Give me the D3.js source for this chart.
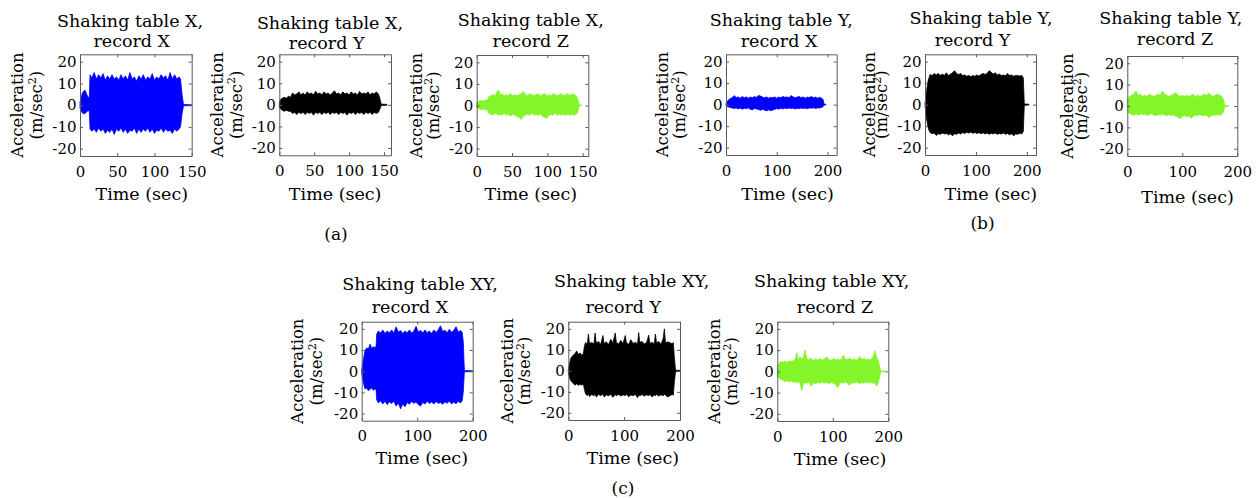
<!DOCTYPE html>
<html>
<head>
<meta charset="utf-8">
<script src="https://cdn.jsdelivr.net/npm/d3@7"></script>
<style>
  html, body { margin: 0; padding: 0; background: #fff; }
  svg { display: block; }
</style>
</head>
<body>
<svg id="fig" width="1260" height="498"></svg>
<script>
// Acceleration records, sampled as envelope points: [time (sec), upper peak, lower peak] in m/sec^2

// (a) shaking table X
const tableX_recX = [[0,1.5,-1.5],[1.5,3,-2.5],[3,5.5,-3.5],[5,6.5,-4],[7,6.8,-3.8],[9,5,-3],[11,3.5,-2.5],[12.5,4,-3],[13.5,14,-11],[16,12.5,-12],[19,15,-11],[22,12,-12.5],[25,14,-10.5],[28,12.5,-12],[31,14.5,-11],[34,11.5,-13],[37,13.5,-11.5],[40,12,-12.5],[43,14,-11],[46,12,-13.5],[49,13,-11],[52,11.5,-12],[55,14,-10.5],[58,12,-12.5],[61,13.5,-11],[64,11.5,-13],[67,15,-11.5],[70,12,-12],[73,13,-10.5],[76,11,-13],[79,13.5,-11],[82,12,-12.5],[85,14,-11],[88,11.5,-12],[91,13,-10.5],[94,12,-12.5],[97,14.5,-11],[100,11.5,-13],[103,13,-11.5],[106,12,-12],[109,14,-10.5],[112,12.5,-12.5],[115,13.5,-11],[118,11.5,-12],[121,15,-11.5],[124,12,-13],[127,14,-11],[130,12,-12],[133,13,-11],[135,12,-10],[137,5,-4],[139,0.3,-0.3],[150,0.2,-0.2]];
const tableX_recY = [[0,1,-1],[2,2.5,-2],[4,3,-2.5],[7,3.5,-3],[10,3,-2.5],[13,4,-3],[16,3.5,-3],[19,5.5,-4],[22,4.5,-3.5],[25,5,-4.5],[28,6,-3.5],[31,4.5,-4],[34,5.5,-3.5],[37,4.5,-4.5],[40,6,-3.5],[43,5,-4],[46,5.5,-3.5],[49,4.5,-4.8],[52,6.3,-3.5],[55,5,-4],[58,5.5,-3.5],[61,4.5,-4.5],[64,6,-3.5],[67,5,-4],[70,5.5,-3.5],[73,4.5,-4.5],[76,5.5,-3.5],[79,6.5,-4],[82,5,-3.5],[85,5.5,-4.5],[88,4.5,-3.5],[91,6,-4],[94,5,-3.5],[97,5.5,-4.8],[100,4.5,-3.5],[103,6,-4],[106,5,-3.5],[109,5.5,-4.5],[112,4.5,-3.5],[115,6.2,-4],[118,5,-3.5],[121,5.5,-4.5],[124,5,-3.5],[127,6,-4],[130,4.5,-3.5],[133,5.5,-4.5],[136,5,-3.5],[139,6,-4],[142,5,-3.5],[144,3,-2],[146,0.3,-0.3],[154,0.2,-0.2]];
const tableX_recZ = [[0,1.5,-1],[3,2,-1.5],[6,2.3,-2],[9,2,-1.5],[12,2.5,-2],[15,2.5,-2],[17,4,-3.5],[20,4.5,-4],[23,5,-4.5],[26,4.5,-3.5],[29,6.5,-4],[31,7.2,-4.5],[33,5,-4],[36,5.5,-4.5],[39,4.5,-3.5],[42,5,-4.5],[45,4.5,-4],[48,5.5,-5],[51,4.5,-4],[54,5,-4.5],[57,4.5,-5],[60,5,-5.5],[63,5.5,-6.5],[66,6.5,-5],[69,5,-4.5],[72,4.5,-4],[75,5.5,-4.5],[78,5,-3.5],[81,4.5,-4.5],[84,5,-4],[87,5.5,-4.5],[90,4.5,-4],[93,5,-5],[96,5.5,-5.5],[99,4.5,-6],[102,5,-4.5],[105,4.5,-4],[108,5.5,-4.5],[111,5,-3.5],[114,4.5,-4.5],[117,5,-4],[120,5.5,-4.5],[123,4.5,-4],[126,5,-4.5],[129,5.5,-4],[132,4.5,-4.5],[135,5.5,-4],[138,5,-4.5],[141,4.5,-4],[143,3,-3],[145,0.3,-0.3],[148,0.2,-0.2]];

// (b) shaking table Y
const tableY_recX = [[0,0.5,-0.5],[4,2,-1],[8,2.8,-1.3],[12,3.2,-1.5],[16,4.2,-1.8],[20,3.3,-1.5],[24,3.6,-2],[28,3,-1.6],[32,3.8,-2.1],[36,3.2,-1.7],[40,3.6,-1.9],[44,3,-1.5],[48,3.5,-2.2],[52,3.2,-2.4],[56,3.8,-1.8],[60,3.4,-2],[64,4.3,-2.3],[68,4,-2.6],[72,3.5,-2.2],[76,3.2,-2.5],[80,3.6,-2.9],[84,3,-2.4],[88,3.4,-2.8],[92,3.2,-2.5],[96,3.6,-2.2],[100,3,-1.8],[104,3.5,-2.1],[108,3.2,-1.7],[112,3.8,-2],[116,3.4,-1.6],[120,3.6,-1.9],[124,3.2,-1.5],[128,4.2,-1.8],[132,3.6,-1.6],[136,3.2,-2],[140,3.5,-1.7],[144,3.8,-1.9],[148,3.2,-1.5],[152,3.6,-1.8],[156,3,-1.6],[160,3.5,-1.9],[164,3.3,-1.5],[168,3.8,-1.7],[172,3.2,-1.4],[176,3.5,-1.8],[180,3,-1.5],[184,3.4,-1.6],[188,3,-1.3],[191,2.5,-1],[193,0.3,-0.2],[197,0.1,-0.1]];
const tableY_recY = [[0,0.5,-0.5],[2,4,-4],[4,8,-8],[6,11,-10.5],[8,12.5,-12],[10,14,-13],[14,13.5,-13.5],[18,14.5,-13.2],[22,13.8,-14.3],[26,14.5,-13.5],[30,13.5,-13.8],[34,14.2,-13.2],[38,13.6,-13.6],[42,14.8,-13.4],[46,13.5,-14],[50,14.2,-13.5],[54,14.8,-14.5],[58,15.8,-13.5],[62,14.5,-13.8],[66,14,-13.2],[70,14.5,-13.6],[74,13.5,-13],[78,13.8,-13.4],[82,13.2,-12.8],[86,13.6,-13.2],[90,13,-12.8],[94,13.5,-13.3],[98,13.2,-12.9],[102,13.8,-13.4],[106,13.3,-13],[110,14,-13.5],[114,14.5,-13.1],[118,14,-13.6],[122,14.5,-13.2],[126,15.8,-13.8],[130,15,-13.3],[134,14.2,-13.6],[138,14.8,-13.2],[142,13.8,-13.8],[146,14.2,-13.4],[150,13.5,-13.6],[154,13.8,-13.2],[158,13.4,-13.8],[162,14.5,-13.4],[166,13.6,-14],[170,13.8,-13.5],[174,13.2,-14.5],[178,13.6,-13.6],[182,13.5,-13.8],[186,13.3,-13.3],[190,13.6,-13.6],[193,12.5,-12.5],[195,0.3,-0.3],[204,0.2,-0.2]];
const tableY_recZ = [[0,2,-1.5],[2,3.5,-3],[4,4.5,-3.5],[8,5,-4],[12,5.5,-4.2],[16,7,-3.8],[20,5,-4.3],[24,5.5,-3.6],[28,4.5,-4],[32,5,-3.8],[36,4.5,-4.4],[40,5.5,-4],[44,5,-3.6],[48,4.5,-4.2],[52,5,-4.5],[56,5.5,-4],[60,5,-4.3],[64,7,-3.8],[68,5.5,-4.2],[72,5,-4.6],[76,4.5,-4],[80,5,-4.5],[84,5.5,-4.2],[88,6.2,-4.8],[92,5,-5.2],[96,4.5,-6],[100,5,-4.8],[104,4.5,-4.5],[108,5,-5],[112,4.5,-4.6],[116,5,-5.8],[120,5.5,-4.8],[124,4.5,-4.2],[128,5,-4.5],[132,4.5,-4],[136,5,-4.4],[140,5.5,-4.6],[144,5,-4.2],[148,6,-5.5],[152,5,-4.6],[156,4.5,-4.2],[160,5,-4.5],[164,5.5,-4],[168,5,-4.3],[172,4.5,-3.8],[175,3,-2.5],[177,0.3,-0.3],[184,0.1,-0.1]];

// (c) shaking table XY
const tableXY_recX = [[0,0.5,-0.5],[2,4,-4],[4,7,-6.5],[6,9.8,-8.4],[9,11,-8],[12,10.5,-9.2],[15,12.8,-8.5],[18,10.8,-8],[21,11.5,-9],[24,11,-8.3],[26,12,-9],[27,17.5,-13.5],[30,19,-15],[34,18,-14],[38,19.5,-15.5],[42,17.8,-14.2],[46,19,-15.8],[50,18.2,-14.5],[54,19.5,-15.3],[58,18,-14.2],[62,21,-16.5],[66,18.5,-15],[70,19.2,-17.8],[74,17.8,-15.5],[78,19,-16.8],[82,18.2,-14.8],[86,19.5,-15.6],[90,18,-14.3],[94,19,-15.2],[98,21.2,-14.5],[102,18.5,-15.8],[106,19.3,-16.5],[110,18,-14.8],[114,19.5,-15.5],[118,18.2,-14.2],[122,19,-15.3],[126,17.8,-14.6],[130,19.5,-15.5],[134,18.3,-14.3],[138,19.6,-15.2],[142,21.5,-14.8],[146,18.8,-15.6],[150,19.4,-14.5],[154,18.2,-15.2],[158,19.8,-14.1],[162,18.4,-15.5],[166,19.3,-14.6],[170,21,-15.4],[174,18.5,-14.2],[178,19.2,-15],[181,18.5,-14],[183,14,-10],[185,0.3,-0.3],[200,0.2,-0.2]];
const tableXY_recY = [[0,0.5,-0.5],[2,3,-3],[4,5.5,-4.5],[6,6.6,-5.2],[9,7.5,-6],[12,8.2,-6.8],[15,9.5,-6.2],[18,7.8,-7],[21,8.5,-6.3],[24,7.6,-6.8],[27,8.2,-6.2],[29,12,-9],[31,13.5,-11],[34,12.5,-11.8],[36,17.5,-11],[38,13,-12.2],[42,13.5,-11.3],[46,12.8,-11.8],[48,18,-11],[50,13.2,-12.5],[54,14,-11.2],[58,12.6,-11.8],[62,16.8,-11],[64,13,-12.4],[68,13.8,-11.5],[72,12.5,-11.8],[76,15,-11.2],[80,13.2,-12.6],[84,18,-11.3],[86,13.5,-11.8],[90,12.8,-11.2],[94,14.5,-12],[98,13,-11.4],[102,16.8,-11.8],[104,13.4,-11],[108,12.6,-12.3],[112,14.8,-11.5],[116,13,-11.8],[120,13.6,-11.2],[124,12.8,-12.8],[126,18.2,-11.5],[128,13.5,-11.8],[132,14,-11.3],[136,12.8,-12],[140,13.4,-11.4],[144,17,-11.8],[146,13,-11.2],[150,13.6,-12.4],[154,12.8,-11.5],[156,17.5,-11.8],[158,13.2,-11.2],[162,14,-12],[166,12.6,-11.4],[170,15.5,-11.8],[172,20,-11.3],[174,13.2,-11.5],[178,13.8,-12.5],[182,13.4,-11.8],[186,12.8,-11.2],[188,13.5,-11.6],[190,6,-5],[192,0.3,-0.3],[200,0.2,-0.2]];
const tableXY_recZ = [[0,2.3,-2.3],[3,3.5,-3],[6,4.6,-3.8],[10,4.3,-4.2],[14,4.8,-4.8],[18,4.2,-4.4],[22,5,-5],[26,4.5,-4.6],[30,5.2,-5.2],[33,6,-4.8],[35,8.8,-5.5],[38,5.5,-5],[41,6.9,-5.6],[44,5.8,-9.2],[47,6.5,-5.8],[50,10,-5.2],[53,6,-5.6],[57,5.5,-5],[61,6.2,-6.9],[65,5,-5.4],[69,5.8,-5.8],[73,5.2,-5.2],[77,6,-5.6],[81,5.4,-5],[85,5.8,-5.5],[89,6.9,-5.2],[93,5.5,-5.8],[97,5.2,-5.3],[101,6,-5.6],[105,5.3,-6.2],[109,5.8,-7.7],[113,5.2,-5.5],[117,6.5,-5.2],[119,7.7,-5.6],[122,5.8,-5],[126,5.5,-5.4],[130,6.2,-6.6],[134,5.4,-5.3],[138,5.8,-5.6],[142,5.2,-5],[146,6,-5.4],[149,7,-5.8],[152,5.5,-5.2],[156,6,-5.6],[160,5.3,-5],[164,5.8,-5.4],[168,5.5,-5.2],[172,6.5,-5.6],[174,7.7,-5.3],[176,9.6,-5.8],[179,6.5,-6.9],[182,5.2,-5.2],[184,3,-3],[186,0.3,-0.3],[194,0.1,-0.1]];

// Tick labels
const yTicks = [-20, -10, 0, 10, 20];
const xTicks150 = [0, 50, 100, 150];
const xTicks200 = [0, 100, 200];
const yDomain = [-23.4, 23.4];

// Panel captions
const groupLabels = ["(a)", "(b)", "(c)"];
const xLabel = "Time (sec)";
const yLabel = "Acceleration";

const BLUE = "#0000ff", BLACK = "#000000", GREEN = "#84f52a";
const AXIS = "#5a5a5a";
const FONT = "'DejaVu Serif', serif";
const TITLE_SIZE = 17.5, LABEL_SIZE = 17.5, YLABEL_SIZE = 16.5, TICK_SIZE = 15;

// Layout of the nine axes: box [x0, y0, x1, y1], title line offsets, x label offset, y label offsets
const panels = [
  { rec: tableX_recX,  color: BLUE,  xMax: 150, xt: xTicks150, title: ["Shaking table X,", "record X"],  box: [80, 54.3, 191.7, 156],      t1: [-5.8, 26.7], t2: [-4.1, 46.7], xl: [5.9, 200],  acc: 56.7, par: 38 },
  { rec: tableX_recY,  color: BLACK, xMax: 160, xt: xTicks150, title: ["Shaking table X,", "record Y"],  box: [279.3, 54.3, 391, 155.3],   t1: [-5.2, 29.3], t2: [-8.5, 49.3], xl: [0, 200],    acc: 56,   par: 37.6 },
  { rec: tableX_recZ,  color: GREEN, xMax: 158, xt: xTicks150, title: ["Shaking table X,", "record Z"],  box: [476.7, 55, 588.3, 156],     t1: [-1.7, 26],   t2: [-1.7, 46.7], xl: [-1.7, 200], acc: 55,   par: 38 },
  { rec: tableY_recX,  color: BLUE,  xMax: 218, xt: xTicks200, title: ["Shaking table Y,", "record X"],  box: [726, 54.3, 836.7, 155],     t1: [0, 26],      t2: [-2.3, 46.7], xl: [6.2, 200],  acc: 57.7, par: 40.7 },
  { rec: tableY_recY,  color: BLACK, xMax: 218, xt: xTicks200, title: ["Shaking table Y,", "record Y"],  box: [925, 54.3, 1036, 155],      t1: [0.5, 24],    t2: [-8, 46],     xl: [10.3, 200], acc: 50,   par: 38 },
  { rec: tableY_recZ,  color: GREEN, xMax: 200, xt: xTicks200, title: ["Shaking table Y,", "record Z"],  box: [1127.3, 56, 1237.3, 156],   t1: [-11.5, 24],  t2: [-7.3, 45],   xl: [5.2, 203.3],acc: 54,   par: 40.3 },
  { rec: tableXY_recX, color: BLUE,  xMax: 200, xt: xTicks200, title: ["Shaking table XY,", "record X"], box: [361.7, 321.7, 472.7, 420.7], t1: [2.8, 290],   t2: [-7.2, 313.3], xl: [4.5, 464], acc: 58.4, par: 39.7 },
  { rec: tableXY_recY, color: BLACK, xMax: 200, xt: xTicks200, title: ["Shaking table XY,", "record Y"], box: [568.3, 321.7, 680, 420],   t1: [7.5, 287],   t2: [-0.9, 313.3], xl: [8.6, 464], acc: 55.6, par: 38 },
  { rec: tableXY_recZ, color: GREEN, xMax: 200, xt: xTicks200, title: ["Shaking table XY,", "record Z"], box: [777.3, 321.7, 888.3, 421], t1: [-1.1, 287],  t2: [2.2, 313.3], xl: [7.2, 465],  acc: 57.3, par: 40.3 }
];

const svg = d3.select("#fig");

function styleAxis(sel) {
  sel.attr("font-family", FONT).attr("font-size", TICK_SIZE);
  sel.select(".domain").attr("stroke", AXIS).attr("stroke-width", 1);
  sel.selectAll(".tick line").attr("stroke", AXIS);
  sel.selectAll(".tick text").attr("fill", "#000");
}

const fmt = d => String(d);

panels.forEach(p => {
  const [x0, y0, x1, y1] = p.box;
  const x = d3.scaleLinear().domain([0, p.xMax]).range([x0, x1]);
  const y = d3.scaleLinear().domain(yDomain).range([y1, y0]);
  const g = svg.append("g");

  // signal envelope
  const area = d3.area()
    .x(d => x(d[0]))
    .y0(d => y(d[2]))
    .y1(d => y(d[1]));
  g.append("path")
    .datum(p.rec)
    .attr("d", area)
    .attr("fill", p.color)
    .attr("stroke", p.color)
    .attr("stroke-width", 0.8)
    .attr("stroke-linejoin", "round");

  // boxed axes with inward ticks
  g.append("g").attr("transform", `translate(0,${y1})`)
    .call(d3.axisBottom(x).tickValues(p.xt).tickSize(-3).tickSizeOuter(0).tickPadding(10).tickFormat(fmt))
    .call(styleAxis);
  g.append("g").attr("transform", `translate(0,${y0})`)
    .call(d3.axisTop(x).tickValues(p.xt).tickSize(-3).tickSizeOuter(0).tickFormat(""))
    .call(styleAxis);
  g.append("g").attr("transform", `translate(${x0},0)`)
    .call(d3.axisLeft(y).tickValues(yTicks).tickSize(-3).tickSizeOuter(0).tickPadding(3.5).tickFormat(fmt))
    .call(styleAxis);
  g.append("g").attr("transform", `translate(${x1},0)`)
    .call(d3.axisRight(y).tickValues(yTicks).tickSize(-3).tickSizeOuter(0).tickFormat(""))
    .call(styleAxis);

  const cx = (x0 + x1) / 2, cy = (y0 + y1) / 2;

  // two-line title
  g.append("text").attr("x", cx + p.t1[0]).attr("y", p.t1[1])
    .attr("text-anchor", "middle").attr("font-family", FONT).attr("font-size", TITLE_SIZE)
    .text(p.title[0]);
  g.append("text").attr("x", cx + p.t2[0]).attr("y", p.t2[1])
    .attr("text-anchor", "middle").attr("font-family", FONT).attr("font-size", TITLE_SIZE)
    .text(p.title[1]);

  // x label
  g.append("text").attr("x", cx + p.xl[0]).attr("y", p.xl[1])
    .attr("text-anchor", "middle").attr("font-family", FONT).attr("font-size", LABEL_SIZE)
    .text(xLabel);

  // y label (two lines, rotated)
  g.append("text")
    .attr("transform", `translate(${x0 - p.acc},${cy}) rotate(-90)`)
    .attr("text-anchor", "middle").attr("font-family", FONT).attr("font-size", YLABEL_SIZE)
    .text(yLabel);
  const unit = g.append("text")
    .attr("transform", `translate(${x0 - p.par},${cy}) rotate(-90)`)
    .attr("text-anchor", "middle").attr("font-family", FONT).attr("font-size", YLABEL_SIZE);
  unit.append("tspan").text("(m/sec");
  unit.append("tspan").attr("font-size", 11).attr("dy", -6.5).text("2");
  unit.append("tspan").attr("dy", 6.5).text(")");
});

// group captions
const captionPos = [[336, 240], [982.5, 229], [623, 494]];
groupLabels.forEach((lbl, i) => {
  svg.append("text")
    .attr("x", captionPos[i][0]).attr("y", captionPos[i][1])
    .attr("text-anchor", "middle").attr("font-family", FONT).attr("font-size", 17)
    .text(lbl);
});
</script>
</body>
</html>
